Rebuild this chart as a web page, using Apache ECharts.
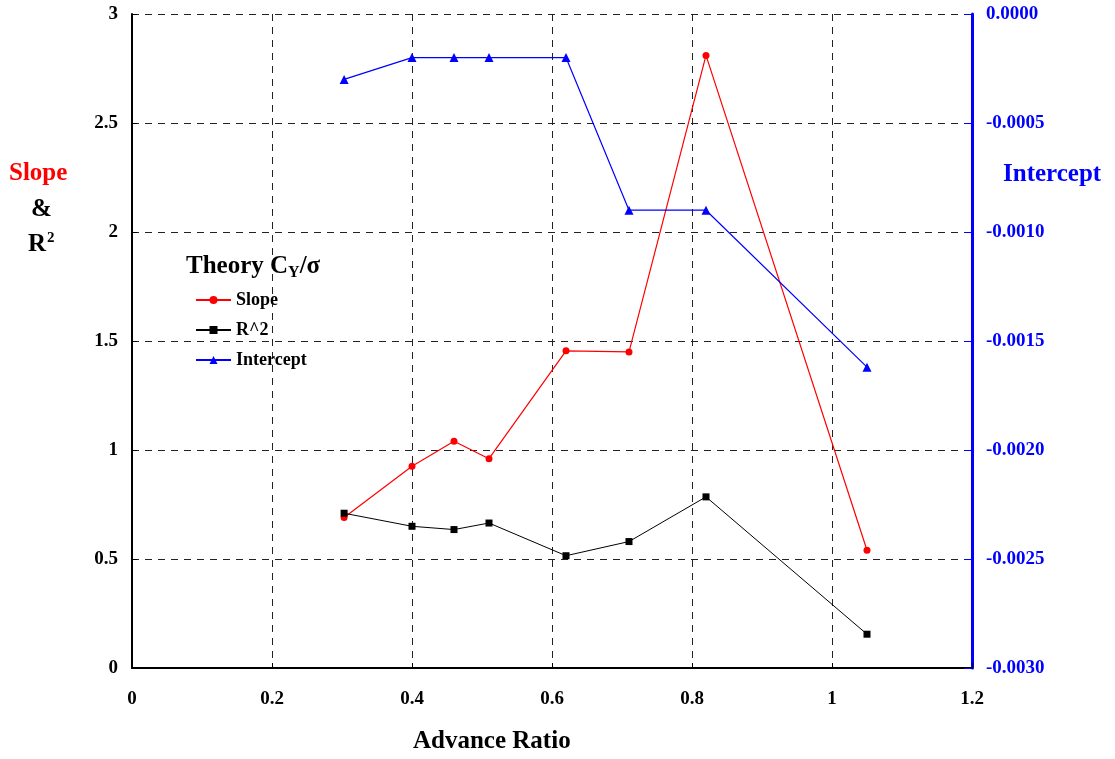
<!DOCTYPE html>
<html><head><meta charset="utf-8">
<script src="https://cdn.jsdelivr.net/npm/echarts@6/dist/echarts.min.js"></script>
<style>html,body{margin:0;padding:0;background:#fff}#c{width:1115px;height:759px}</style>
</head><body><div id="c"></div>
<script>
const advanceRatio = [0.303, 0.40, 0.46, 0.51, 0.62, 0.71, 0.82, 1.05];
const slope = [0.69, 0.925, 1.04, 0.96, 1.455, 1.45, 2.81, 0.54];
const rSquared = [0.71, 0.65, 0.635, 0.665, 0.515, 0.58, 0.785, 0.155];
const intercept = [-0.0003, -0.0002, -0.0002, -0.0002, -0.0002, -0.0009, -0.0009, -0.00162];
const seriesNames = ['Slope', 'R^2', 'Intercept'];

const F = '"Liberation Serif", "Times New Roman", serif';
const pair = (ys) => advanceRatio.map((x, i) => [x, ys[i]]);
const chart = echarts.init(document.getElementById('c'));
const dash = {type: [7, 6], color: '#222', width: 1};
chart.setOption({
  animation: false,
  grid: {left: 132, right: 143, top: 14, bottom: 91},
  title: {
    text: 'Theory C{sub|Y}/σ', left: 181, top: 247,
    textStyle: {fontFamily: F, fontWeight: 'bold', fontSize: 25, color: '#000',
      rich: {sub: {fontFamily: F, fontWeight: 'bold', fontSize: 16, color: '#000', verticalAlign: 'bottom', padding: [13, 0, 0, 0]}}}
  },
  legend: {
    orient: 'vertical', left: 190, top: 286, itemGap: 12, itemWidth: 35, itemHeight: 10, itemTextGap: 5,
    data: seriesNames,
    textStyle: {fontFamily: F, fontWeight: 'bold', fontSize: 18, color: '#000'}
  },
  xAxis: {
    type: 'value', min: 0, max: 1.2, interval: 0.2,
    axisLine: {onZero: false, lineStyle: {color: '#000', width: 2}},
    axisTick: {inside: true, length: 5, lineStyle: {color: '#000'}},
    axisLabel: {fontFamily: F, fontWeight: 'bold', fontSize: 19, color: '#000', margin: 22},
    splitLine: {show: true, lineStyle: dash}
  },
  yAxis: [{
    type: 'value', min: 0, max: 3, interval: 0.5,
    axisLine: {show: true, onZero: false, lineStyle: {color: '#000', width: 2}},
    axisTick: {show: true, inside: true, length: 5, lineStyle: {color: '#000'}},
    axisLabel: {fontFamily: F, fontWeight: 'bold', fontSize: 19, color: '#000', margin: 14},
    splitLine: {show: true, lineStyle: dash}
  }, {
    type: 'value', min: -0.003, max: 0, interval: 0.0005, position: 'right',
    axisLine: {show: true, onZero: false, lineStyle: {color: '#0000ff', width: 3}},
    axisTick: {show: true, inside: true, length: 8, lineStyle: {color: '#0000ff'}},
    axisLabel: {fontFamily: F, fontWeight: 'bold', fontSize: 19, color: '#0000ff', margin: 14,
      formatter: v => v.toFixed(4)},
    splitLine: {show: false}
  }],
  graphic: [
    {type: 'text', left: 9, top: 161, style: {text: 'Slope', fill: '#ff0000', font: 'bold 25px ' + F}},
    {type: 'text', left: 31, top: 197, style: {text: '&', fill: '#000', font: 'bold 25px ' + F}},
    {type: 'text', left: 28, top: 231, style: {
      text: 'R{sup|2}', fill: '#000', font: 'bold 25px ' + F,
      rich: {sup: {fill: '#000', font: 'bold 15px ' + F, verticalAlign: 'top', padding: [0, 0, 13, 1]}}}},
    {type: 'text', left: 1003, top: 162, style: {text: 'Intercept', fill: '#0000ff', font: 'bold 25px ' + F}},
    {type: 'text', left: 413, top: 729, style: {text: 'Advance Ratio', fill: '#000', font: 'bold 25px ' + F}}
  ],
  series: [
    {name: 'Slope', type: 'line', data: pair(slope), yAxisIndex: 0,
     symbol: 'circle', symbolSize: 7, color: '#ff0000', lineStyle: {width: 1.2, color: '#ff0000'}},
    {name: 'R^2', type: 'line', data: pair(rSquared), yAxisIndex: 0,
     symbol: 'rect', symbolSize: 7, color: '#000', lineStyle: {width: 1, color: '#000'}},
    {name: 'Intercept', type: 'line', data: pair(intercept), yAxisIndex: 1,
     symbol: 'triangle', symbolSize: 9, color: '#0000ff', lineStyle: {width: 1.2, color: '#0000ff'}}
  ]
});
</script></body></html>
